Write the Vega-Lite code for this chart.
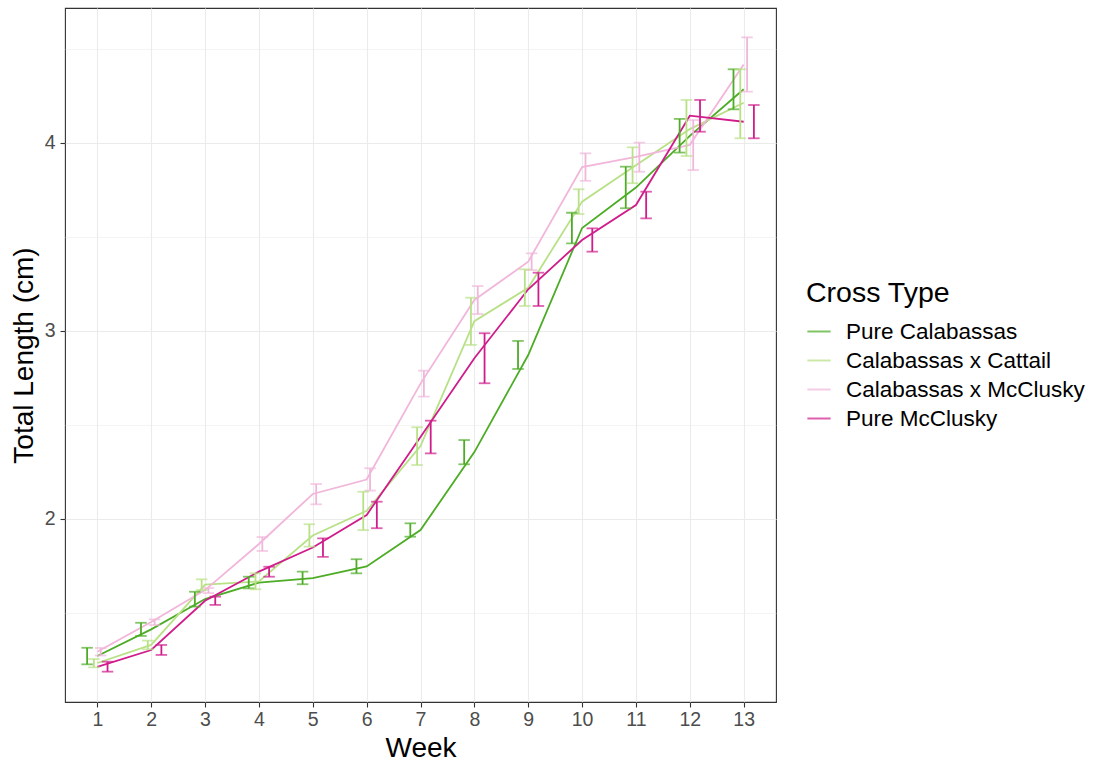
{
  "$schema": "https://vega.github.io/schema/vega-lite/v6.json",
  "autosize": {"type": "none"},
  "width": 711,
  "height": 694,
  "padding": {"left": 65, "top": 8, "right": 321, "bottom": 63},
  "background": "white",
  "config": {
    "font": "Liberation Sans",
    "view": {"stroke": "#333333", "strokeWidth": 1.1},
    "axis": {
      "domain": false,
      "gridColor": "#EBEBEB",
      "gridWidth": 1.1,
      "tickColor": "#333333",
      "tickSize": 5,
      "tickWidth": 1.1,
      "labelColor": "#4D4D4D",
      "labelFontSize": 19.5,
      "labelFont": "Liberation Sans",
      "titleFont": "Liberation Sans",
      "titleFontSize": 28,
      "titleFontWeight": "normal",
      "titleColor": "#000000"
    },
    "legend": {
      "titleFont": "Liberation Sans",
      "labelFont": "Liberation Sans",
      "titleFontSize": 28.5,
      "titleFontWeight": "normal",
      "titleColor": "#000000",
      "labelFontSize": 22.5,
      "labelColor": "#000000",
      "labelLimit": 400
    }
  },
  "data": {
    "values": [
      {"week": 1, "cross": "Pure Calabassas", "mean": 1.271, "lo": 1.227, "hi": 1.315},
      {"week": 2, "cross": "Pure Calabassas", "mean": 1.413, "lo": 1.378, "hi": 1.448},
      {"week": 3, "cross": "Pure Calabassas", "mean": 1.574, "lo": 1.534, "hi": 1.613},
      {"week": 4, "cross": "Pure Calabassas", "mean": 1.662, "lo": 1.631, "hi": 1.693},
      {"week": 5, "cross": "Pure Calabassas", "mean": 1.686, "lo": 1.653, "hi": 1.72},
      {"week": 6, "cross": "Pure Calabassas", "mean": 1.748, "lo": 1.711, "hi": 1.786},
      {"week": 7, "cross": "Pure Calabassas", "mean": 1.941, "lo": 1.906, "hi": 1.977},
      {"week": 8, "cross": "Pure Calabassas", "mean": 2.356, "lo": 2.291, "hi": 2.42},
      {"week": 9, "cross": "Pure Calabassas", "mean": 2.872, "lo": 2.798, "hi": 2.947},
      {"week": 10, "cross": "Pure Calabassas", "mean": 3.548, "lo": 3.466, "hi": 3.629},
      {"week": 11, "cross": "Pure Calabassas", "mean": 3.763, "lo": 3.653, "hi": 3.874},
      {"week": 12, "cross": "Pure Calabassas", "mean": 4.038, "lo": 3.949, "hi": 4.128},
      {"week": 13, "cross": "Pure Calabassas", "mean": 4.286, "lo": 4.179, "hi": 4.392},
      {"week": 1, "cross": "Calabassas x Cattail", "mean": 1.234, "lo": 1.211, "hi": 1.255},
      {"week": 2, "cross": "Calabassas x Cattail", "mean": 1.33, "lo": 1.307, "hi": 1.353},
      {"week": 3, "cross": "Calabassas x Cattail", "mean": 1.651, "lo": 1.622, "hi": 1.679},
      {"week": 4, "cross": "Calabassas x Cattail", "mean": 1.668, "lo": 1.626, "hi": 1.711},
      {"week": 5, "cross": "Calabassas x Cattail", "mean": 1.912, "lo": 1.853, "hi": 1.972},
      {"week": 6, "cross": "Calabassas x Cattail", "mean": 2.044, "lo": 1.941, "hi": 2.145},
      {"week": 7, "cross": "Calabassas x Cattail", "mean": 2.388, "lo": 2.287, "hi": 2.488},
      {"week": 8, "cross": "Calabassas x Cattail", "mean": 3.052, "lo": 2.926, "hi": 3.177},
      {"week": 9, "cross": "Calabassas x Cattail", "mean": 3.23, "lo": 3.133, "hi": 3.328},
      {"week": 10, "cross": "Calabassas x Cattail", "mean": 3.688, "lo": 3.622, "hi": 3.754},
      {"week": 11, "cross": "Calabassas x Cattail", "mean": 3.881, "lo": 3.786, "hi": 3.977},
      {"week": 12, "cross": "Calabassas x Cattail", "mean": 4.074, "lo": 3.931, "hi": 4.229},
      {"week": 13, "cross": "Calabassas x Cattail", "mean": 4.214, "lo": 4.025, "hi": 4.392},
      {"week": 1, "cross": "Calabassas x McClusky", "mean": 1.294, "lo": 1.274, "hi": 1.314},
      {"week": 2, "cross": "Calabassas x McClusky", "mean": 1.452, "lo": 1.436, "hi": 1.466},
      {"week": 3, "cross": "Calabassas x McClusky", "mean": 1.622, "lo": 1.606, "hi": 1.633},
      {"week": 4, "cross": "Calabassas x McClusky", "mean": 1.867, "lo": 1.83, "hi": 1.904},
      {"week": 5, "cross": "Calabassas x McClusky", "mean": 2.133, "lo": 2.078, "hi": 2.186},
      {"week": 6, "cross": "Calabassas x McClusky", "mean": 2.21, "lo": 2.151, "hi": 2.27},
      {"week": 7, "cross": "Calabassas x McClusky", "mean": 2.72, "lo": 2.651, "hi": 2.789},
      {"week": 8, "cross": "Calabassas x McClusky", "mean": 3.165, "lo": 3.09, "hi": 3.239},
      {"week": 9, "cross": "Calabassas x McClusky", "mean": 3.369, "lo": 3.324, "hi": 3.413},
      {"week": 10, "cross": "Calabassas x McClusky", "mean": 3.872, "lo": 3.799, "hi": 3.945},
      {"week": 11, "cross": "Calabassas x McClusky", "mean": 3.926, "lo": 3.847, "hi": 4.002},
      {"week": 12, "cross": "Calabassas x McClusky", "mean": 3.99, "lo": 3.856, "hi": 4.122},
      {"week": 13, "cross": "Calabassas x McClusky", "mean": 4.418, "lo": 4.273, "hi": 4.562},
      {"week": 1, "cross": "Pure McClusky", "mean": 1.214, "lo": 1.188, "hi": 1.241},
      {"week": 2, "cross": "Pure McClusky", "mean": 1.303, "lo": 1.277, "hi": 1.33},
      {"week": 3, "cross": "Pure McClusky", "mean": 1.565, "lo": 1.543, "hi": 1.587},
      {"week": 4, "cross": "Pure McClusky", "mean": 1.72, "lo": 1.693, "hi": 1.746},
      {"week": 5, "cross": "Pure McClusky", "mean": 1.848, "lo": 1.799, "hi": 1.897},
      {"week": 6, "cross": "Pure McClusky", "mean": 2.021, "lo": 1.951, "hi": 2.092},
      {"week": 7, "cross": "Pure McClusky", "mean": 2.436, "lo": 2.349, "hi": 2.523},
      {"week": 8, "cross": "Pure McClusky", "mean": 2.855, "lo": 2.722, "hi": 2.988},
      {"week": 9, "cross": "Pure McClusky", "mean": 3.222, "lo": 3.133, "hi": 3.31},
      {"week": 10, "cross": "Pure McClusky", "mean": 3.484, "lo": 3.422, "hi": 3.546},
      {"week": 11, "cross": "Pure McClusky", "mean": 3.67, "lo": 3.599, "hi": 3.741},
      {"week": 12, "cross": "Pure McClusky", "mean": 4.145, "lo": 4.06, "hi": 4.229},
      {"week": 13, "cross": "Pure McClusky", "mean": 4.113, "lo": 4.025, "hi": 4.202}
    ]
  },
  "encoding": {
    "x": {
      "field": "week",
      "type": "ordinal",
      "scale": {"type": "point", "padding": 0.6},
      "axis": {
        "title": "Week",
        "grid": true,
        "labelAngle": 0,
        "labelPadding": 3,
        "titlePadding": 6
      }
    },
    "color": {
      "field": "cross",
      "type": "nominal",
      "scale": {
        "domain": ["Pure Calabassas", "Calabassas x Cattail", "Calabassas x McClusky", "Pure McClusky"],
        "range": ["#4DAC26", "#B8E186", "#F1B6DA", "#D01C8B"]
      },
      "legend": {
        "title": "Cross Type",
        "orient": "none",
        "legendX": 741,
        "legendY": 271,
        "symbolType": "stroke",
        "symbolSize": 540,
        "symbolStrokeWidth": 2,
        "rowPadding": 4,
        "labelOffset": 14,
        "titlePadding": 11
      }
    }
  },
  "resolve": {"axis": {"y": "independent"}},
  "layer": [
    {
      "mark": {"type": "line", "strokeWidth": 1.8},
      "encoding": {
        "y": {
          "field": "mean",
          "type": "quantitative",
          "scale": {"domain": [1.0266, 4.718], "nice": false, "zero": false},
          "axis": {
            "title": "Total Length (cm)",
            "values": [2, 3, 4],
            "format": "d",
            "labelPadding": 5,
            "titlePadding": 6
          }
        }
      }
    },
    {
      "mark": {"type": "rule", "strokeWidth": 1.8},
      "encoding": {
        "y": {
          "field": "lo",
          "type": "quantitative",
          "axis": {
            "orient": "left",
            "values": [1.5, 2.5, 3.5, 4.5],
            "grid": true,
            "gridWidth": 0.55,
            "gridColor": "#EBEBEB",
            "labels": false,
            "ticks": false,
            "domain": false,
            "title": null
          }
        },
        "y2": {"field": "hi"},
        "xOffset": {"field": "cross", "type": "nominal", "sort": ["Pure Calabassas", "Calabassas x Cattail", "Calabassas x McClusky", "Pure McClusky"], "scale": {"type": "point", "range": [-10.2, 10.2], "padding": 0}}
      }
    },
    {
      "mark": {"type": "tick", "orient": "horizontal", "size": 11.5, "thickness": 1.8},
      "encoding": {
        "y": {"field": "lo", "type": "quantitative", "axis": null},
        "xOffset": {"field": "cross", "type": "nominal", "sort": ["Pure Calabassas", "Calabassas x Cattail", "Calabassas x McClusky", "Pure McClusky"], "scale": {"type": "point", "range": [-10.2, 10.2], "padding": 0}}
      }
    },
    {
      "mark": {"type": "tick", "orient": "horizontal", "size": 11.5, "thickness": 1.8},
      "encoding": {
        "y": {"field": "hi", "type": "quantitative", "axis": null},
        "xOffset": {"field": "cross", "type": "nominal", "sort": ["Pure Calabassas", "Calabassas x Cattail", "Calabassas x McClusky", "Pure McClusky"], "scale": {"type": "point", "range": [-10.2, 10.2], "padding": 0}}
      }
    }
  ]
}
